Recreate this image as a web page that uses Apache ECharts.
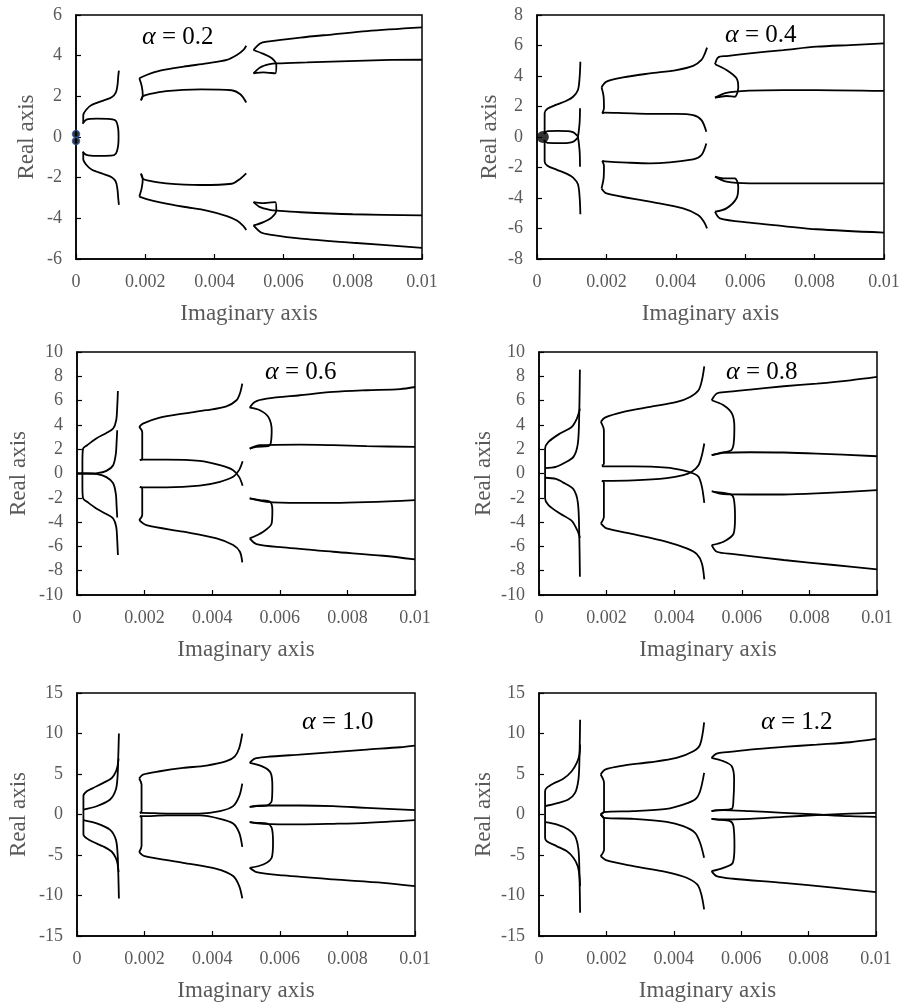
<!DOCTYPE html>
<html>
<head>
<meta charset="utf-8">
<script src="https://cdn.jsdelivr.net/npm/echarts@6/dist/echarts.min.js"></script>
<style>html,body{margin:0;padding:0;background:#fff}#c{width:907px;height:1003px}</style>
</head>
<body>
<div id="c"></div>
<script>
// ---------- Data (x = imaginary axis, y = real axis) ----------
const alphaLabels = ['0.2', '0.4', '0.6', '0.8', '1.0', '1.2'];
const xTicks = [0, 0.002, 0.004, 0.006, 0.008, 0.01];
const yRanges = [[-6, 6, 2], [-8, 8, 2], [-10, 10, 2], [-10, 10, 2], [-15, 15, 5], [-15, 15, 5]];

// Panel 1 (alpha = 0.2)
const p1Markers = [[0, 0.15], [0, -0.2]];
const p1_A_up = [[0.00021,0.70],[0.00021,1.08],[0.00029,1.33],[0.00045,1.57],[0.00079,1.79],[0.00103,1.95],[0.00115,2.18],[0.00120,2.56],[0.00122,2.97],[0.00124,3.26]];
const p1_A_dn = [[0.00021,-0.75],[0.00021,-1.10],[0.00029,-1.35],[0.00045,-1.60],[0.00079,-1.82],[0.00103,-1.98],[0.00115,-2.20],[0.00120,-2.60],[0.00122,-3.00],[0.00124,-3.34]];
const p1_loop = [[0.00019,0.65],[0.0003,0.85],[0.0006,0.90],[0.0010,0.88],[0.00115,0.80],[0.00122,0.40],[0.00123,0],[0.00122,-0.40],[0.00115,-0.82],[0.0010,-0.92],[0.0006,-0.93],[0.0003,-0.88],[0.00019,-0.72]];
const p1_B_up_out = [[0.00183,2.89],[0.00204,3.05],[0.00243,3.26],[0.00311,3.46],[0.00378,3.62],[0.00436,3.79],[0.00465,4.03],[0.00484,4.28],[0.00492,4.49]];
const p1_B_up_vert = [[0.00183,2.89],[0.0019,2.5],[0.00193,2.05],[0.00188,1.8]];
const p1_B_up_in = [[0.00188,1.8],[0.00193,2.0],[0.0021,2.1],[0.0026,2.26],[0.0036,2.34],[0.0045,2.30],[0.00475,2.1],[0.00492,1.7]];
const p1_B_dn_out = [[0.00183,-2.93],[0.00204,-3.05],[0.00243,-3.21],[0.00311,-3.43],[0.00378,-3.62],[0.00436,-3.89],[0.00465,-4.11],[0.00484,-4.38],[0.00492,-4.57]];
const p1_B_dn_vert = [[0.00183,-2.93],[0.0019,-2.5],[0.00193,-2.05],[0.00188,-1.8]];
const p1_B_dn_in = [[0.00188,-1.8],[0.00193,-2.05],[0.0021,-2.15],[0.0026,-2.28],[0.0036,-2.36],[0.0045,-2.3],[0.00475,-2.05],[0.00492,-1.79]];
const p1_C_up_out = [[0.00513,4.28],[0.00532,4.6],[0.00552,4.69],[0.00648,4.89],[0.00744,5.05],[0.00841,5.21],[0.01,5.39]];
const p1_C_up_twist = [[0.00513,4.28],[0.0054,4.1],[0.00566,3.87],[0.00579,3.54],[0.00576,3.13],[0.00542,3.18],[0.00513,3.13]];
const p1_C_up_in = [[0.00513,3.13],[0.00532,3.42],[0.0056,3.58],[0.0058,3.62],[0.00667,3.67],[0.00908,3.79],[0.01,3.8]];
const p1_C_dn_out = [[0.00513,-4.35],[0.00535,-4.7],[0.0056,-4.8],[0.0065,-5.0],[0.008,-5.2],[0.01,-5.45]];
const p1_C_dn_twist = [[0.00513,-4.35],[0.0054,-4.2],[0.00566,-3.95],[0.00579,-3.6],[0.00576,-3.2],[0.00542,-3.25],[0.00513,-3.2]];
const p1_C_dn_in = [[0.00513,-3.2],[0.00532,-3.45],[0.0056,-3.58],[0.0058,-3.62],[0.0065,-3.7],[0.008,-3.8],[0.01,-3.85]];

// Panel 2 (alpha = 0.4)
const p2Markers = [[0.00017, 0]];
const p2_A_up = [[0.00022,0.2],[0.00022,1.0],[0.00022,1.57],[0.00030,1.85],[0.00056,2.12],[0.00085,2.38],[0.00104,2.64],[0.00118,3.08],[0.00123,3.96],[0.00125,4.94]];
const p2_A_dn = [[0.00022,-0.2],[0.00022,-1.0],[0.00022,-1.6],[0.00030,-1.88],[0.00056,-2.14],[0.00085,-2.4],[0.00104,-2.66],[0.00118,-3.1],[0.00123,-4.0],[0.00125,-5.07]];
const p2_loop = [[0.0002,0.2],[0.0003,0.39],[0.0006,0.40],[0.0009,0.38],[0.00105,0.3],[0.00115,0.1],[0.00118,0],[0.00115,-0.1],[0.00105,-0.3],[0.0009,-0.38],[0.0006,-0.40],[0.0003,-0.39],[0.0002,-0.2]];
const p2_A_vert = [[0.00124,1.88],[0.00123,1.0],[0.0012,0.3],[0.00118,0],[0.0012,-0.3],[0.00123,-1.0],[0.00124,-1.95]];
const p2_B_up_out = [[0.00186,3.26],[0.0020,3.63],[0.00248,3.91],[0.00325,4.17],[0.00402,4.39],[0.0045,4.66],[0.00474,5.05],[0.00484,5.49],[0.0049,5.86]];
const p2_B_up_vert = [[0.00186,3.26],[0.00192,2.64],[0.00193,1.88],[0.00188,1.55]];
const p2_B_up_in = [[0.00188,1.55],[0.00195,1.6],[0.00248,1.57],[0.00325,1.52],[0.00402,1.52],[0.0045,1.44],[0.00474,1.11],[0.00488,0.35]];
const p2_B_dn_out = [[0.00186,-3.37],[0.0020,-3.69],[0.00325,-4.24],[0.00421,-4.68],[0.00464,-5.11],[0.00481,-5.55],[0.0049,-5.99]];
const p2_B_dn_vert = [[0.00186,-3.37],[0.00192,-2.7],[0.00193,-1.9],[0.00188,-1.57]];
const p2_B_dn_in = [[0.00188,-1.57],[0.00195,-1.6],[0.0026,-1.68],[0.00325,-1.73],[0.0045,-1.46],[0.00474,-1.18],[0.00488,-0.42]];
const p2_C_up_out = [[0.00513,4.77],[0.00522,5.22],[0.00546,5.31],[0.00613,5.49],[0.0071,5.7],[0.00806,5.92],[0.00902,6.03],[0.01,6.14]];
const p2_C_up_twist = [[0.00513,4.77],[0.00546,4.39],[0.00575,3.85],[0.0058,3.26],[0.0057,2.64],[0.00546,2.69],[0.00513,2.58]];
const p2_C_up_in = [[0.00513,2.58],[0.00546,2.9],[0.00613,3.04],[0.0071,3.08],[0.00806,3.08],[0.01,3.02]];
const p2_C_dn_out = [[0.00513,-4.9],[0.00527,-5.33],[0.00613,-5.62],[0.0071,-5.84],[0.00806,-6.05],[0.01,-6.27]];
const p2_C_dn_twist = [[0.00513,-4.9],[0.00546,-4.68],[0.00575,-4.02],[0.0058,-3.26],[0.0057,-2.71],[0.00537,-2.71],[0.00513,-2.6]];
const p2_C_dn_in = [[0.00513,-2.6],[0.00546,-2.93],[0.00613,-3.04],[0.0080,-3.04],[0.01,-3.04]];

// Panel 3 (alpha = 0.6)
const p3_A_out = [[0.00121,6.79],[0.00119,5.48],[0.00116,4.38],[0.00107,3.7],[0.00087,3.34],[0.00057,2.88],[0.0003,2.33],[0.00018,2.05],[0.00016,1.0],[0.00016,-1.0],[0.00018,-2.05],[0.0003,-2.33],[0.00057,-2.88],[0.00087,-3.34],[0.00107,-3.7],[0.00116,-4.38],[0.00119,-5.48],[0.00121,-6.71]];
const p3_A_in_up = [[0,0],[0.0003,0],[0.0006,0.03],[0.00087,0.22],[0.00107,0.68],[0.00115,1.64],[0.00117,2.5],[0.00119,3.56]];
const p3_A_in_dn = [[0,0],[0.0003,0],[0.0006,-0.05],[0.00087,-0.3],[0.00107,-0.8],[0.00115,-1.7],[0.00117,-2.6],[0.00119,-3.62]];
const p3_B_up_out = [[0.00184,3.84],[0.00195,4.11],[0.00245,4.6],[0.00314,4.93],[0.00383,5.21],[0.00442,5.53],[0.00472,6.03],[0.00482,6.58],[0.00489,7.4]];
const p3_B_up_vert = [[0.00184,3.84],[0.00193,3.42],[0.00193,1.23],[0.00186,1.1]];
const p3_B_up_in = [[0.00186,1.1],[0.00193,1.15],[0.00265,1.15],[0.00363,1.04],[0.00423,0.68],[0.00462,0.27],[0.0048,-0.3],[0.0049,-1.0]];
const p3_B_dn_in = [[0.00186,-1.1],[0.00193,-1.15],[0.00265,-1.15],[0.00363,-1.0],[0.00423,-0.68],[0.00462,-0.27],[0.0048,0.3],[0.0049,1.0]];
const p3_B_dn_out = [[0.00184,-3.84],[0.00205,-4.25],[0.00314,-4.79],[0.00413,-5.34],[0.00462,-5.89],[0.00482,-6.44],[0.00489,-7.32]];
const p3_B_dn_vert = [[0.00184,-3.84],[0.00193,-3.42],[0.00193,-1.23],[0.00186,-1.1]];
const p3_C_up_out = [[0.00511,5.42],[0.00526,5.89],[0.00561,6.16],[0.00659,6.44],[0.00758,6.71],[0.00857,6.85],[0.00956,6.95],[0.01,7.12]];
const p3_C_up_twist = [[0.00511,5.42],[0.00541,5.21],[0.00566,4.66],[0.00576,3.56],[0.00573,2.47],[0.00566,2.25],[0.00531,2.19],[0.00511,2.05]];
const p3_C_up_in = [[0.00511,2.05],[0.00541,2.33],[0.00659,2.38],[0.00758,2.33],[0.00857,2.25],[0.01,2.19]];
const p3_C_dn_out = [[0.00511,-5.34],[0.00531,-5.81],[0.0061,-6.08],[0.00758,-6.44],[0.00906,-6.77],[0.01,-7.07]];
const p3_C_dn_twist = [[0.00511,-5.34],[0.00551,-4.79],[0.00576,-4.11],[0.00578,-3.01],[0.00571,-2.33],[0.00541,-2.19],[0.00511,-2.05]];
const p3_C_dn_in = [[0.00511,-2.05],[0.00561,-2.33],[0.00659,-2.41],[0.00758,-2.41],[0.01,-2.19]];

// Panel 4 (alpha = 0.8)
const p4_A_out = [[0.00121,5.34],[0.00118,5.0],[0.00112,4.52],[0.00097,3.84],[0.00062,3.29],[0.00028,2.6],[0.00018,2.05],[0.00018,0],[0.00018,-2.05],[0.00028,-2.6],[0.00062,-3.3],[0.00097,-3.9],[0.00112,-4.6],[0.00118,-5.0],[0.00121,-5.3]];
const p4_A_in_up = [[0.00018,0.45],[0.0005,0.55],[0.00072,0.82],[0.00102,1.37],[0.00115,2.47],[0.00119,4.93],[0.00121,8.55]];
const p4_A_in_dn = [[0.00018,-0.35],[0.0005,-0.45],[0.00072,-0.75],[0.00102,-1.3],[0.00115,-2.4],[0.00119,-4.9],[0.00121,-8.49]];
const p4_B_up_out = [[0.00183,4.25],[0.00195,4.6],[0.0025,5.07],[0.00329,5.48],[0.00408,5.89],[0.00447,6.3],[0.00472,6.85],[0.00482,7.67],[0.00489,8.82]];
const p4_B_up_vert = [[0.00183,4.25],[0.00192,3.56],[0.00192,0.8],[0.00186,0.65]];
const p4_B_up_in = [[0.00186,0.6],[0.00192,0.58],[0.00279,0.58],[0.00378,0.48],[0.00427,0.25],[0.00457,0],[0.00472,-0.27],[0.00482,-1.1],[0.00489,-2.41]];
const p4_B_dn_in = [[0.00186,-0.6],[0.00192,-0.6],[0.00279,-0.56],[0.00378,-0.38],[0.00427,-0.14],[0.00452,0.14],[0.00472,0.68],[0.00482,1.51],[0.00489,2.47]];
const p4_B_dn_out = [[0.00183,-4.11],[0.002,-4.52],[0.00279,-4.99],[0.00378,-5.62],[0.00437,-6.16],[0.00467,-6.63],[0.00482,-7.4],[0.00489,-8.71]];
const p4_B_dn_vert = [[0.00183,-4.11],[0.00192,-3.56],[0.00192,-0.75],[0.00186,-0.6]];
const p4_C_up_out = [[0.00511,6.03],[0.00526,6.58],[0.00556,6.71],[0.00625,6.9],[0.00724,7.18],[0.00822,7.4],[0.00921,7.67],[0.01,7.95]];
const p4_C_up_twist = [[0.00511,6.03],[0.00546,5.62],[0.00571,4.93],[0.00578,3.84],[0.00576,2.47],[0.00569,1.92],[0.00536,1.7],[0.00511,1.51]];
const p4_C_up_in = [[0.00511,1.51],[0.00546,1.7],[0.00625,1.75],[0.00724,1.73],[0.00822,1.64],[0.01,1.42]];
const p4_C_dn_out = [[0.00511,-5.89],[0.00526,-6.44],[0.00576,-6.63],[0.00724,-7.12],[0.00872,-7.53],[0.01,-7.89]];
const p4_C_dn_twist = [[0.00511,-5.89],[0.00546,-5.62],[0.00576,-4.93],[0.0058,-3.56],[0.00576,-2.05],[0.00566,-1.7],[0.00516,-1.51]];
const p4_C_dn_in = [[0.00511,-1.45],[0.00546,-1.7],[0.00625,-1.73],[0.00724,-1.73],[0.00822,-1.64],[0.01,-1.37]];

// Panel 5 (alpha = 1.0)
const p5_A_out = [[0.00123,6.9],[0.00120,6.0],[0.00115,5.3],[0.00103,4.51],[0.00078,3.9],[0.00048,3.28],[0.00029,2.87],[0.00019,2.3],[0.00019,0],[0.00019,-2.46],[0.00029,-2.95],[0.00048,-3.4],[0.00078,-3.95],[0.00103,-4.6],[0.00115,-5.4],[0.0012,-6.1],[0.00123,-7.1]];
const p5_A_in_up = [[0.00019,0.61],[0.00058,1.02],[0.00098,1.85],[0.00115,3.08],[0.0012,4.7],[0.00122,6.97],[0.00124,10.0]];
const p5_A_in_dn = [[0.00019,-0.7],[0.00058,-1.1],[0.00098,-1.9],[0.00115,-3.1],[0.0012,-4.8],[0.00122,-7.0],[0.00124,-10.36]];
const p5_B_up_out = [[0.00184,4.44],[0.00195,4.93],[0.00245,5.34],[0.00314,5.75],[0.00383,6.04],[0.00442,6.58],[0.00467,7.19],[0.0048,8.22],[0.00489,9.99]];
const p5_B_up_vert = [[0.00184,4.44],[0.00191,3.7],[0.00191,0.41],[0.00186,0.2]];
const p5_B_up_in = [[0.00186,0.2],[0.00193,0.2],[0.00265,0.12],[0.00363,0.12],[0.00423,0.41],[0.00462,1.03],[0.0048,2.26],[0.00489,3.82]];
const p5_B_dn_in = [[0.00186,-0.2],[0.00193,-0.2],[0.00265,-0.12],[0.00363,-0.12],[0.00423,-0.53],[0.00462,-1.11],[0.0048,-2.26],[0.00489,-3.99]];
const p5_B_dn_out = [[0.00184,-4.64],[0.002,-5.14],[0.00314,-5.96],[0.00413,-6.7],[0.00462,-7.6],[0.0048,-8.84],[0.00489,-10.36]];
const p5_B_dn_vert = [[0.00184,-4.64],[0.00191,-3.9],[0.00191,-0.41],[0.00186,-0.2]];
const p5_C_up_out = [[0.00511,6.37],[0.00526,6.9],[0.00561,7.11],[0.00659,7.4],[0.00758,7.69],[0.00857,8.01],[0.00956,8.3],[0.01,8.51]];
const p5_C_up_twist = [[0.00511,6.37],[0.00551,5.88],[0.00573,5.14],[0.00578,3.49],[0.00576,1.64],[0.00561,1.11],[0.00531,1.03],[0.00511,0.95]];
const p5_C_up_in = [[0.00511,0.95],[0.00551,1.11],[0.00659,1.11],[0.00758,1.03],[0.00857,0.82],[0.01,0.53]];
const p5_C_dn_out = [[0.00511,-6.58],[0.00531,-7.11],[0.0061,-7.52],[0.00758,-8.01],[0.00906,-8.43],[0.01,-8.84]];
const p5_C_dn_twist = [[0.00511,-6.58],[0.00551,-6.17],[0.00576,-5.34],[0.0058,-3.49],[0.00576,-1.64],[0.00561,-1.11],[0.00531,-1.03],[0.00511,-0.95]];
const p5_C_dn_in = [[0.00511,-0.95],[0.00551,-1.15],[0.00659,-1.23],[0.00758,-1.15],[0.00857,-1.03],[0.01,-0.7]];

// Panel 6 (alpha = 1.2)
const p6_A_out = [[0.00122,8.63],[0.0012,7.4],[0.00112,6.37],[0.00097,5.34],[0.00072,4.4],[0.00043,3.82],[0.00023,3.29],[0.00018,2.88],[0.00018,0],[0.00018,-2.88],[0.00023,-3.29],[0.00052,-3.9],[0.00082,-4.52],[0.00102,-5.34],[0.00115,-6.37],[0.0012,-7.6],[0.00122,-8.84]];
const p6_A_in_up = [[0.00018,1.03],[0.00052,1.36],[0.00087,1.85],[0.00107,2.67],[0.00117,4.32],[0.0012,6.78],[0.00122,11.71]];
const p6_A_in_dn = [[0.00018,-0.95],[0.00052,-1.23],[0.00087,-1.85],[0.00107,-2.67],[0.00117,-4.32],[0.0012,-7.19],[0.00122,-12.12]];
const p6_B_up_out = [[0.00183,4.93],[0.00196,5.55],[0.0025,6.04],[0.00329,6.45],[0.00408,6.99],[0.00458,7.81],[0.00478,8.63],[0.0049,11.38]];
const p6_B_up_vert = [[0.00183,4.93],[0.00193,3.9],[0.00193,0.41],[0.00183,0]];
const p6_B_up_in = [[0.00183,0],[0.00193,0.29],[0.0028,0.41],[0.00379,0.7],[0.00428,1.23],[0.00463,1.85],[0.00478,2.88],[0.0049,5.14]];
const p6_B_dn_in = [[0.00183,0],[0.00193,-0.41],[0.0028,-0.53],[0.00379,-0.9],[0.00428,-1.44],[0.00463,-2.26],[0.00478,-3.49],[0.0049,-5.34]];
const p6_B_dn_out = [[0.00183,-5.14],[0.00201,-5.67],[0.0028,-6.37],[0.00379,-7.11],[0.00438,-7.81],[0.00473,-8.84],[0.0049,-11.71]];
const p6_B_dn_vert = [[0.00183,-5.14],[0.00193,-4.32],[0.00193,-0.53],[0.00183,0]];
const p6_C_up_out = [[0.00512,6.99],[0.00527,7.52],[0.00557,7.69],[0.00626,8.01],[0.00725,8.34],[0.00824,8.63],[0.00923,8.92],[0.01,9.33]];
const p6_C_up_twist = [[0.00512,6.99],[0.00547,6.58],[0.00572,5.96],[0.00579,4.32],[0.00577,1.85],[0.00572,0.7],[0.00527,0.53],[0.00512,0.41]];
const p6_C_up_in = [[0.00512,0.41],[0.00547,0.53],[0.00626,0.41],[0.00725,0.21],[0.00824,0],[0.00923,-0.21],[0.01,-0.29]];
const p6_C_dn_in = [[0.00512,-0.53],[0.00547,-0.62],[0.00626,-0.53],[0.00725,-0.29],[0.00824,-0.08],[0.00923,0.12],[0.01,0.21]];
const p6_C_dn_out = [[0.00512,-6.99],[0.00527,-7.6],[0.00577,-7.93],[0.00725,-8.43],[0.00873,-9.04],[0.01,-9.58]];
const p6_C_dn_twist = [[0.00512,-6.99],[0.00547,-6.58],[0.00575,-5.96],[0.0058,-3.9],[0.00577,-1.44],[0.00567,-0.82],[0.00527,-0.62],[0.00512,-0.53]];

const panelCurves = [
  [p1_A_up, p1_A_dn, p1_loop, p1_B_up_out, p1_B_up_vert, p1_B_up_in, p1_B_dn_out, p1_B_dn_vert, p1_B_dn_in, p1_C_up_out, p1_C_up_twist, p1_C_up_in, p1_C_dn_out, p1_C_dn_twist, p1_C_dn_in],
  [p2_A_up, p2_A_dn, p2_loop, p2_A_vert, p2_B_up_out, p2_B_up_vert, p2_B_up_in, p2_B_dn_out, p2_B_dn_vert, p2_B_dn_in, p2_C_up_out, p2_C_up_twist, p2_C_up_in, p2_C_dn_out, p2_C_dn_twist, p2_C_dn_in],
  [p3_A_out, p3_A_in_up, p3_A_in_dn, p3_B_up_out, p3_B_up_vert, p3_B_up_in, p3_B_dn_in, p3_B_dn_out, p3_B_dn_vert, p3_C_up_out, p3_C_up_twist, p3_C_up_in, p3_C_dn_out, p3_C_dn_twist, p3_C_dn_in],
  [p4_A_out, p4_A_in_up, p4_A_in_dn, p4_B_up_out, p4_B_up_vert, p4_B_up_in, p4_B_dn_in, p4_B_dn_out, p4_B_dn_vert, p4_C_up_out, p4_C_up_twist, p4_C_up_in, p4_C_dn_out, p4_C_dn_twist, p4_C_dn_in],
  [p5_A_out, p5_A_in_up, p5_A_in_dn, p5_B_up_out, p5_B_up_vert, p5_B_up_in, p5_B_dn_in, p5_B_dn_out, p5_B_dn_vert, p5_C_up_out, p5_C_up_twist, p5_C_up_in, p5_C_dn_out, p5_C_dn_twist, p5_C_dn_in],
  [p6_A_out, p6_A_in_up, p6_A_in_dn, p6_B_up_out, p6_B_up_vert, p6_B_up_in, p6_B_dn_in, p6_B_dn_out, p6_B_dn_vert, p6_C_up_out, p6_C_up_twist, p6_C_up_in, p6_C_dn_in, p6_C_dn_out, p6_C_dn_twist]
];

// ---------- Layout ----------
const grids = [
  {left: 76, top: 15, width: 346, height: 244},
  {left: 537, top: 15, width: 347, height: 244},
  {left: 77, top: 352, width: 338, height: 243},
  {left: 539, top: 352, width: 338, height: 243},
  {left: 77, top: 693, width: 338, height: 244},
  {left: 539, top: 693, width: 337, height: 244}
];
const yNameGaps = [38, 36, 47, 44, 47, 44];
const labelPos = [[137, 19], [720, 17], [260, 354], [721, 354], [297, 704], [756, 704]];

const FONT = '"Liberation Serif", "Times New Roman", serif';
const GRAY = '#595959';

const option = {
  animation: false,
  backgroundColor: '#fff',
  title: alphaLabels.map((a, i) => ({
    text: '{a|α} = ' + a,
    left: labelPos[i][0], top: labelPos[i][1],
    textStyle: {
      fontFamily: FONT, fontSize: 25, fontWeight: 'normal', color: '#000',
      rich: {a: {fontFamily: FONT, fontSize: 26, fontStyle: 'italic', color: '#000'}}
    }
  })),
  grid: grids.map(g => Object.assign({show: true, borderColor: '#000', borderWidth: 1.5, backgroundColor: 'transparent'}, g)),
  xAxis: grids.map((g, i) => ({
    type: 'value', gridIndex: i, min: xTicks[0], max: xTicks[xTicks.length - 1], interval: 0.002,
    name: 'Imaginary axis', nameLocation: 'middle', nameGap: 43,
    nameTextStyle: {fontFamily: FONT, fontSize: 23, color: GRAY},
    axisLine: {show: true, onZero: false, lineStyle: {color: '#000', width: 1.5}},
    axisTick: {show: true, inside: true, length: 5, lineStyle: {color: '#000', width: 1.2}},
    axisLabel: {fontFamily: FONT, fontSize: 18, color: GRAY, margin: 14,
      formatter: v => v === 0 ? '0' : String(parseFloat(v.toFixed(3)))},
    splitLine: {show: false}
  })),
  yAxis: grids.map((g, i) => ({
    type: 'value', gridIndex: i, min: yRanges[i][0], max: yRanges[i][1], interval: yRanges[i][2],
    name: 'Real axis', nameLocation: 'middle', nameGap: yNameGaps[i],
    nameTextStyle: {fontFamily: FONT, fontSize: 23, color: GRAY},
    axisLine: {show: true, onZero: false, lineStyle: {color: '#000', width: 1.5}},
    axisTick: {show: true, inside: true, length: 5, lineStyle: {color: '#000', width: 1.2}},
    axisLabel: {fontFamily: FONT, fontSize: 18, color: GRAY, margin: 14},
    splitLine: {show: false}
  })),
  series: []
};

panelCurves.forEach((curves, i) => {
  curves.forEach(c => {
    option.series.push({
      type: 'line', xAxisIndex: i, yAxisIndex: i, data: c,
      showSymbol: false, symbol: 'none', smooth: 0.3, clip: true, silent: true,
      lineStyle: {color: '#000', width: 1.8}
    });
  });
});
option.series.push({
  type: 'scatter', xAxisIndex: 0, yAxisIndex: 0, data: p1Markers, symbolSize: 7, clip: false, silent: true,
  itemStyle: {color: '#000', borderColor: '#2F5597', borderWidth: 1.5}
});
option.series.push({
  type: 'scatter', xAxisIndex: 1, yAxisIndex: 1, data: p2Markers, symbolSize: 12, clip: false, silent: true,
  itemStyle: {color: '#000'}
});

const chart = echarts.init(document.getElementById('c'), null, {renderer: 'canvas'});
chart.setOption(option);
</script>
</body>
</html>
